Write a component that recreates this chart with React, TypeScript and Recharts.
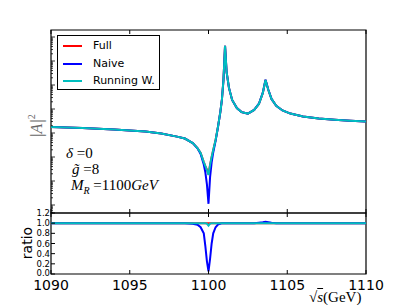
import React from "react"
import { LineChart, Line, XAxis, YAxis, ReferenceArea } from "recharts"

// sqrt(s) in GeV
const energies = [
  1090, 1092, 1094, 1096, 1097, 1098, 1098.5, 1099, 1099.3, 1099.5, 1099.7, 1099.8, 1099.9, 1100,
  1100.1, 1100.2, 1100.3, 1100.45, 1100.6, 1100.75, 1100.85, 1100.95, 1101.05, 1101.15, 1101.3,
  1101.5, 1101.8, 1102.1, 1102.5, 1102.9, 1103.2, 1103.45, 1103.62, 1103.8, 1104, 1104.3, 1104.7,
  1105.2, 1106, 1107, 1108, 1109, 1110,
]

// log10 |A|^2 (arbitrary normalisation)
const fullAmp = [
  -0.75, -0.79, -0.85, -0.94, -1.02, -1.15, -1.23, -1.42, -1.63, -1.83, -2.21, -2.38, -2.53, -2.73,
  -2.32, -2.0, -1.71, -1.29, -0.75, -0.13, 0.38, 1.21, 2.63, 1.54, 0.88,
  0.38, 0.04, -0.13, -0.19, -0.04, 0.21, 0.67, 1.21, 0.79, 0.42, 0.13, -0.06,
  -0.19, -0.31, -0.4, -0.45, -0.49, -0.52,
]
const naiveAmp = [
  -0.75, -0.79, -0.85, -0.94, -1.02, -1.15, -1.23, -1.42, -1.64, -1.87, -2.31, -2.64, -3.14, -3.95,
  -2.84, -2.22, -1.81, -1.33, -0.76, -0.13, 0.38, 1.21, 2.63, 1.54, 0.88,
  0.38, 0.04, -0.13, -0.19, -0.04, 0.22, 0.68, 1.22, 0.8, 0.42, 0.13, -0.06,
  -0.19, -0.31, -0.4, -0.45, -0.49, -0.52,
]
const runningAmp = [
  -0.75, -0.79, -0.85, -0.94, -1.02, -1.15, -1.23, -1.42, -1.63, -1.83, -2.21, -2.38, -2.54, -2.75,
  -2.33, -2.0, -1.71, -1.29, -0.75, -0.13, 0.38, 1.21, 2.63, 1.54, 0.88,
  0.38, 0.04, -0.13, -0.19, -0.04, 0.21, 0.67, 1.21, 0.79, 0.42, 0.13, -0.06,
  -0.19, -0.31, -0.4, -0.45, -0.49, -0.52,
]

// ratio to Full
const fullRatio = energies.map(() => 1)
const naiveRatio = [
  1, 1, 1, 1, 1, 1, 1, 0.99, 0.97, 0.92, 0.8, 0.55, 0.25, 0.05,
  0.3, 0.6, 0.8, 0.92, 0.97, 0.99, 1, 1, 1, 1, 1,
  1, 1, 1, 1, 1, 1.01, 1.02, 1.03, 1.02, 1.01, 1, 1,
  1, 1, 1, 1, 1, 1,
]
const runningRatio = [
  1, 1, 1, 1, 1, 1, 1, 1, 1, 1, 1, 1, 0.99, 0.95,
  0.99, 1, 1, 1, 1, 1, 1, 1, 1, 1, 1,
  1, 1, 1, 1, 1, 1, 1, 1, 1, 1, 1, 1,
  1, 1, 1, 1, 1, 1,
]

const xTicks = [1090, 1095, 1100, 1105, 1110]
const ratioTicks = [0, 0.2, 0.4, 0.6, 0.8, 1.0, 1.2]
const ampDomain = [-4.333, 3.292]

// log-scale tick marks for the |A|^2 axis
const ampTicks: number[] = []
for (let d = -5; d <= 3; d++) {
  for (let m = 1; m <= 9; m++) {
    const v = d + Math.log10(m)
    if (v > ampDomain[0] && v < ampDomain[1]) ampTicks.push(v)
  }
}

const data = energies.map((e, i) => ({
  e,
  full: fullAmp[i],
  naive: naiveAmp[i],
  running: runningAmp[i],
  rFull: fullRatio[i],
  rNaive: naiveRatio[i],
  rRunning: runningRatio[i],
}))

const RED = "#ff0000"
const BLUE = "#0000ff"
const CYAN = "#00bfbf"
const SANS = "'DejaVu Sans', sans-serif"
const SERIF = "'Liberation Serif', serif"

const W = 407
const H = 305

const BottomTick = ({ x, y, labels }: any) => (
  <g>
    <line x1={x} y1={y} x2={x} y2={y - 4} stroke="#000" />
    {labels && (
      <text x={x} y={y + 16} textAnchor="middle" fontSize={14} fontFamily={SANS} fill="#000">
        {labels}
      </text>
    )}
  </g>
)

const TopTick = ({ x, y }: any) => <line x1={x} y1={y} x2={x} y2={y + 4} stroke="#000" />

const AmpTickLeft = ({ x, y, payload }: any) => {
  const major = Math.abs(payload.value - Math.round(payload.value)) < 1e-6
  return <line x1={x} y1={y} x2={x + (major ? 4 : 2)} y2={y} stroke="#000" strokeWidth={0.8} />
}
const AmpTickRight = ({ x, y, payload }: any) => {
  const major = Math.abs(payload.value - Math.round(payload.value)) < 1e-6
  return <line x1={x} y1={y} x2={x - (major ? 4 : 2)} y2={y} stroke="#000" strokeWidth={0.8} />
}

const RatioTickLeft = ({ x, y, payload }: any) => (
  <g>
    <line x1={x} y1={y} x2={x + 4} y2={y} stroke="#000" />
    <text x={x - 1} y={y + (payload.value === 0 ? 1.5 : 3)} textAnchor="end" fontSize={8.5} fontFamily={SANS} fill="#000">
      {payload.value.toFixed(1)}
    </text>
  </g>
)
const RatioTickRight = ({ x, y }: any) => <line x1={x} y1={y} x2={x - 4} y2={y} stroke="#000" />

const legendItems = [
  { label: "Full", color: RED },
  { label: "Naive", color: BLUE },
  { label: "Running W.", color: CYAN },
]

const axisBase = { axisLine: false, tickLine: false, tickSize: 0, tickMargin: 0, interval: 0 as const }

export default function App() {
  return (
    <div style={{ position: "absolute", left: 0, top: 0, width: W, height: H, background: "#fff" }}>
      <div style={{ position: "absolute", left: 0, top: 0 }}>
        <LineChart width={W} height={214} data={data} margin={{ top: 29, left: 50, right: 40, bottom: 0 }}>
          <XAxis dataKey="e" type="number" domain={[1090, 1110]} ticks={xTicks} height={1}
            {...axisBase} tick={<BottomTick />} />
          <XAxis xAxisId="top" dataKey="e" type="number" domain={[1090, 1110]} ticks={xTicks}
            orientation="top" height={1} {...axisBase} tick={<TopTick />} />
          <YAxis type="number" domain={ampDomain} ticks={ampTicks} width={1}
            {...axisBase} tick={<AmpTickLeft />} />
          <YAxis yAxisId="right" orientation="right" type="number" domain={ampDomain} ticks={ampTicks}
            width={1} {...axisBase} tick={<AmpTickRight />} />
          <Line dataKey="full" stroke={RED} strokeWidth={2} dot={false} type="linear" isAnimationActive={false} />
          <Line dataKey="naive" stroke={BLUE} strokeWidth={2} dot={false} type="linear" isAnimationActive={false} />
          <Line dataKey="running" stroke={CYAN} strokeWidth={2} dot={false} type="linear" isAnimationActive={false} />
          <ReferenceArea x1={1090} x2={1110} y1={ampDomain[0]} y2={ampDomain[1]} fill="none"
            fillOpacity={0} stroke="#000" strokeWidth={1.2} ifOverflow="visible" />
        </LineChart>
      </div>
      <div style={{ position: "absolute", left: 0, top: 0 }}>
        <LineChart width={W} height={H} data={data} margin={{ top: 212, left: 50, right: 40, bottom: 30 }}>
          <XAxis dataKey="e" type="number" domain={[1090, 1110]} ticks={xTicks} height={1}
            {...axisBase} tick={(p: any) => <BottomTick {...p} labels={String(p.payload.value)} />} />
          <XAxis xAxisId="top" dataKey="e" type="number" domain={[1090, 1110]} ticks={xTicks}
            orientation="top" height={1} {...axisBase} tick={<TopTick />} />
          <YAxis type="number" domain={[0, 1.2]} ticks={ratioTicks} width={1}
            {...axisBase} tick={<RatioTickLeft />} />
          <YAxis yAxisId="right" orientation="right" type="number" domain={[0, 1.2]} ticks={ratioTicks}
            width={1} {...axisBase} tick={<RatioTickRight />} />
          <Line dataKey="rFull" stroke={RED} strokeWidth={2} dot={false} type="linear" isAnimationActive={false} />
          <Line dataKey="rNaive" stroke={BLUE} strokeWidth={2} dot={false} type="linear" isAnimationActive={false} />
          <Line dataKey="rRunning" stroke={CYAN} strokeWidth={2} dot={false} type="linear" isAnimationActive={false} />
          <ReferenceArea x1={1090} x2={1110} y1={0} y2={1.2} fill="none" fillOpacity={0}
            stroke="#000" strokeWidth={1.2} ifOverflow="visible" />
        </LineChart>
      </div>

      {/* legend */}
      <div style={{ position: "absolute", left: 57, top: 35, width: 101, height: 53, border: "1px solid #000",
        background: "#fff", fontFamily: SANS, fontSize: 11 }}>
        {legendItems.map((it, i) => (
          <div key={it.label} style={{ position: "absolute", left: 0, top: 3 + i * 17.5, height: 14, width: 100 }}>
            <div style={{ position: "absolute", left: 5, top: 6, width: 19, height: 2, background: it.color }} />
            <div style={{ position: "absolute", left: 35, top: 0, lineHeight: "14px", whiteSpace: "nowrap" }}>{it.label}</div>
          </div>
        ))}
      </div>

      {/* annotations */}
      <div style={{ position: "absolute", left: 66, top: 146, fontFamily: SERIF, fontStyle: "italic", fontSize: 15,
        lineHeight: "15px", whiteSpace: "nowrap" }}>
        δ<span style={{ fontStyle: "normal" }}> =0</span>
      </div>
      <div style={{ position: "absolute", left: 72, top: 162, fontFamily: SERIF, fontStyle: "italic", fontSize: 15,
        lineHeight: "15px", whiteSpace: "nowrap" }}>
        g̃<span style={{ fontStyle: "normal" }}> =8</span>
      </div>
      <div style={{ position: "absolute", left: 71, top: 178, fontFamily: SERIF, fontStyle: "italic", fontSize: 15,
        lineHeight: "15px", whiteSpace: "nowrap" }}>
        M<sub style={{ fontSize: 10, lineHeight: "10px" }}>R</sub><span style={{ fontStyle: "normal" }}> =1100</span>GeV
      </div>

      {/* axis labels */}
      <div style={{ position: "absolute", left: 36, top: 126, transform: "translate(-50%,-50%) rotate(-90deg)",
        fontFamily: SERIF, fontStyle: "italic", fontSize: 16, color: "#666", whiteSpace: "nowrap" }}>
        |A|<sup style={{ fontSize: 10, fontStyle: "normal" }}>2</sup>
      </div>
      <div style={{ position: "absolute", left: 27, top: 243, transform: "translate(-50%,-50%) rotate(-90deg)",
        fontFamily: SANS, fontSize: 14, whiteSpace: "nowrap" }}>
        ratio
      </div>
      <div style={{ position: "absolute", left: 309, top: 289, fontFamily: SERIF, fontSize: 15, lineHeight: "16px",
        whiteSpace: "nowrap" }}>
        √<span style={{ fontStyle: "italic", textDecoration: "overline" }}>s</span>(GeV)
      </div>
    </div>
  )
}
